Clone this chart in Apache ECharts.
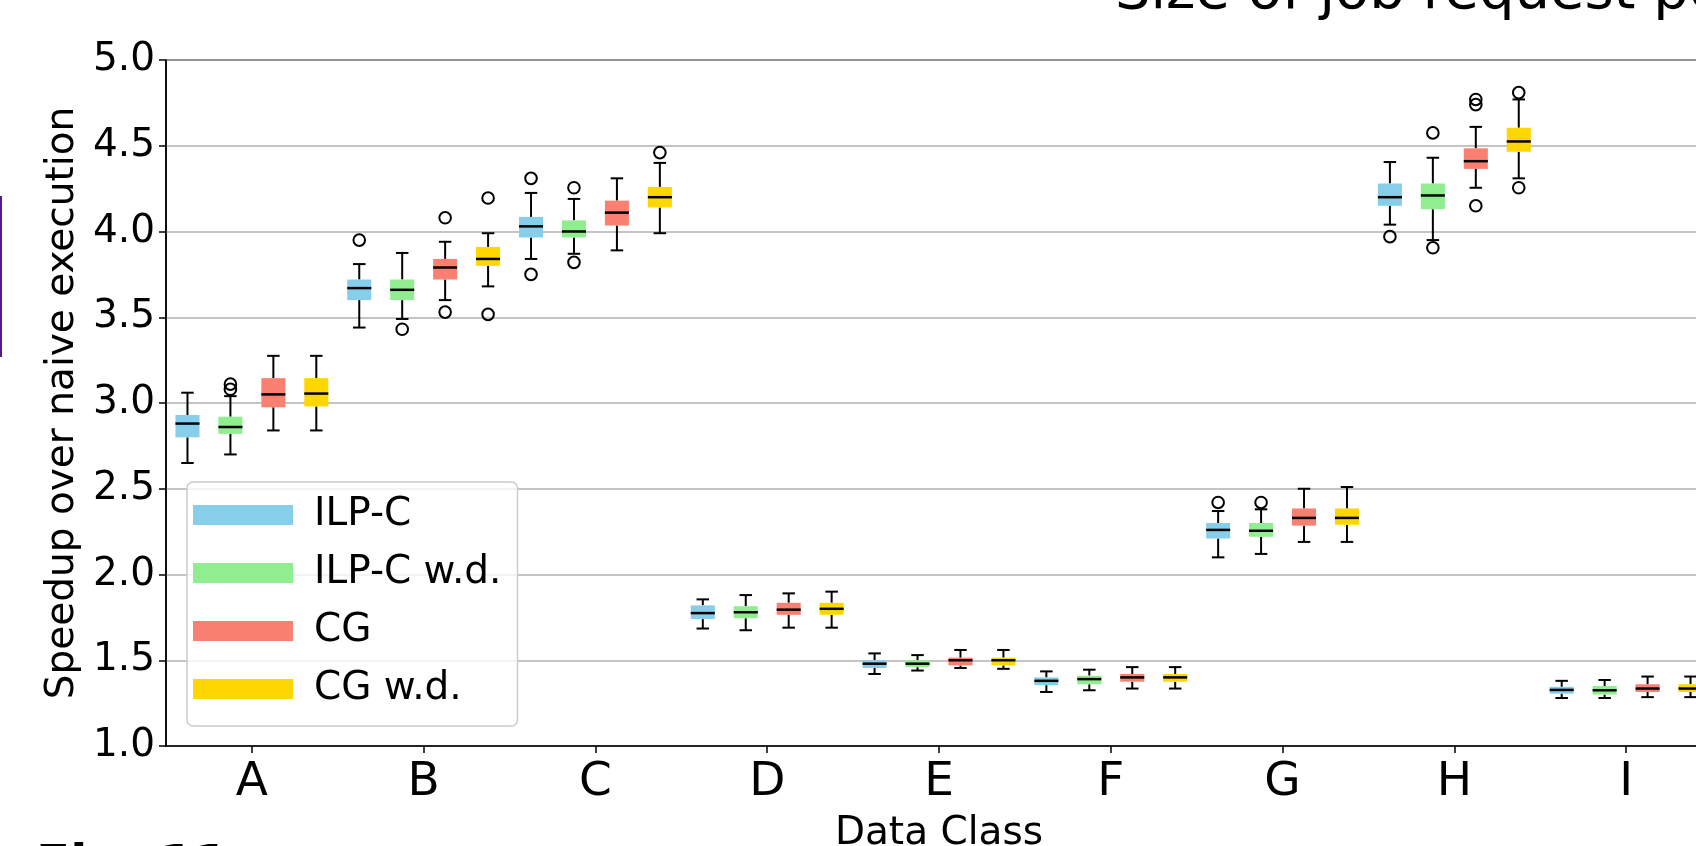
<!DOCTYPE html>
<html><head><meta charset="utf-8">
<script src="https://cdn.jsdelivr.net/npm/echarts@6/dist/echarts.min.js"></script>
<style>html,body{margin:0;padding:0;overflow:hidden;background:#fff}#c{width:1760px;height:846px}</style>
</head><body><div id="c"></div>
<script>
const categories = ['A','B','C','D','E','F','G','H','I'];
const seriesNames = ['ILP-C','ILP-C w.d.','CG','CG w.d.'];
const yTickValues = [1.0,1.5,2.0,2.5,3.0,3.5,4.0,4.5,5.0];
// each row: [min, Q1, median, Q3, max] for one data class
const ilpc = [
 [2.65,2.80,2.88,2.93,3.06],
 [3.44,3.60,3.67,3.72,3.81],
 [3.84,3.965,4.03,4.085,4.225],
 [1.685,1.74,1.775,1.82,1.855],
 [1.42,1.455,1.48,1.50,1.54],
 [1.315,1.355,1.38,1.40,1.435],
 [2.10,2.21,2.26,2.30,2.37],
 [4.04,4.15,4.20,4.28,4.405],
 [1.28,1.305,1.327,1.345,1.38]
];
const ilpcWd = [
 [2.70,2.82,2.86,2.92,3.04],
 [3.49,3.60,3.66,3.72,3.875],
 [3.87,3.965,4.00,4.065,4.19],
 [1.675,1.745,1.78,1.815,1.88],
 [1.44,1.46,1.48,1.50,1.53],
 [1.325,1.36,1.39,1.41,1.445],
 [2.12,2.22,2.255,2.30,2.38],
 [3.95,4.13,4.21,4.28,4.43],
 [1.28,1.30,1.325,1.35,1.385]
];
const cg = [
 [2.84,2.975,3.05,3.145,3.275],
 [3.60,3.72,3.79,3.84,3.94],
 [3.89,4.035,4.11,4.18,4.31],
 [1.69,1.765,1.795,1.835,1.89],
 [1.455,1.47,1.50,1.515,1.56],
 [1.335,1.375,1.40,1.42,1.46],
 [2.19,2.285,2.33,2.385,2.50],
 [4.255,4.365,4.41,4.485,4.61],
 [1.285,1.315,1.335,1.36,1.405]
];
const cgWd = [
 [2.84,2.98,3.055,3.145,3.275],
 [3.68,3.80,3.84,3.91,3.99],
 [3.99,4.14,4.20,4.26,4.40],
 [1.69,1.765,1.80,1.835,1.90],
 [1.45,1.47,1.50,1.515,1.56],
 [1.335,1.375,1.40,1.42,1.46],
 [2.19,2.29,2.33,2.385,2.51],
 [4.31,4.465,4.525,4.605,4.77],
 [1.285,1.315,1.335,1.36,1.405]
];
// outliers: [class, value]
const ilpcOut = [['B',3.95],['C',4.31],['C',3.75],['G',2.42],['H',3.97]];
const ilpcWdOut = [['A',3.08],['A',3.11],['B',3.43],['C',4.255],['C',3.82],['G',2.42],['H',4.575],['H',3.905]];
const cgOut = [['B',4.08],['B',3.53],['H',4.77],['H',4.74],['H',4.15]];
const cgWdOut = [['B',4.195],['B',3.517],['C',4.46],['H',4.81],['H',4.255]];

const colors = ['#87CEEB','#90EE90','#FA8072','#FFD700'];
const OFFS = [-0.375,-0.125,0.125,0.375];
const BOXW = 0.14;
const FONT = '"DejaVu Sans", sans-serif';

const boxData = [ilpc, ilpcWd, cg, cgWd];
const outData = [ilpcOut, ilpcWdOut, cgOut, cgWdOut];

function boxRender(k){
  return function(params, api){
    const i = api.value(0);
    const band = api.size([1,0])[0];
    const cx = api.coord([i, 1])[0] + OFFS[k]*band;
    const w = BOXW*band, cw = w*0.52;
    const y = [1,2,3,4,5].map(d => api.coord([i, api.value(d)])[1]);
    const ls = {stroke:'#000', lineWidth:2};
    return {type:'group', children:[
      {type:'line', shape:{x1:cx,y1:y[3],x2:cx,y2:y[4]}, style:ls},
      {type:'line', shape:{x1:cx,y1:y[1],x2:cx,y2:y[0]}, style:ls},
      {type:'line', shape:{x1:cx-cw/2,y1:y[4],x2:cx+cw/2,y2:y[4]}, style:ls},
      {type:'line', shape:{x1:cx-cw/2,y1:y[0],x2:cx+cw/2,y2:y[0]}, style:ls},
      {type:'rect', shape:{x:cx-w/2,y:y[3],width:w,height:y[1]-y[3]}, style:{fill:colors[k]}},
      {type:'line', shape:{x1:cx-w/2,y1:y[2],x2:cx+w/2,y2:y[2]}, style:{stroke:'#000',lineWidth:2.5}}
    ]};
  };
}
function outRender(k){
  return function(params, api){
    const i = api.value(0);
    const band = api.size([1,0])[0];
    const p = api.coord([i, api.value(1)]);
    return {type:'circle', shape:{cx:p[0]+OFFS[k]*band, cy:p[1], r:5.8},
            style:{fill:'none', stroke:'#000', lineWidth:2}};
  };
}

const series = [];
for (let k=0;k<4;k++){
  series.push({
    name: seriesNames[k], type:'custom', renderItem: boxRender(k),
    itemStyle:{color:colors[k]},
    dimensions:['x','min','q1','med','q3','max'],
    encode:{x:0, y:[1,2,3,4,5]},
    data: boxData[k].map((r,i)=>[i].concat(r)), z:3
  });
}
for (let k=0;k<4;k++){
  series.push({
    name: seriesNames[k]+' outliers', type:'custom', renderItem: outRender(k),
    encode:{x:0, y:1},
    data: outData[k].map(o=>[categories.indexOf(o[0]), o[1]]), z:4
  });
}

const chart = echarts.init(document.getElementById('c'), null, {renderer:'canvas'});
chart.setOption({
  animation:false,
  backgroundColor:'#fff',
  grid:{left:166, right:48, top:60, bottom:100, show:true, borderColor:'#000', borderWidth:1.5, backgroundColor:'transparent', outerBoundsMode:'none'},
  xAxis:{
    type:'category', data:categories,
    name:'Data Class', nameLocation:'middle', nameGap:68,
    nameTextStyle:{fontFamily:FONT, fontSize:39, color:'#000'},
    axisLine:{show:true, lineStyle:{color:'#000', width:1.5}},
    axisTick:{show:true, alignWithLabel:true, length:7, lineStyle:{color:'#000', width:1.5}},
    axisLabel:{fontFamily:FONT, fontSize:47, color:'#000', margin:13},
    splitLine:{show:false}
  },
  yAxis:{
    type:'value', min:yTickValues[0], max:yTickValues[yTickValues.length-1], interval:0.5,
    name:'Speedup over naive execution', nameLocation:'middle', nameRotate:90, nameGap:78,
    nameTextStyle:{fontFamily:FONT, fontSize:39, color:'#000'},
    axisLine:{show:true, lineStyle:{color:'#000', width:1.5}},
    axisTick:{show:true, length:7, lineStyle:{color:'#000', width:1.5}},
    axisLabel:{fontFamily:FONT, fontSize:39, color:'#000', margin:11, formatter:v=>v.toFixed(1)},
    splitLine:{show:true, lineStyle:{color:'#b0b0b0', width:1.6}}
  },
  legend:{
    data:seriesNames, orient:'vertical', left:187, top:482,
    icon:'rect', itemWidth:100, itemHeight:20, itemGap:14,
    padding:[11,16,15,6],
    backgroundColor:'rgba(255,255,255,0.8)', borderColor:'#cccccc', borderWidth:1.5, borderRadius:6,
    textStyle:{fontFamily:FONT, fontSize:39, color:'#000', lineHeight:44, padding:[0,0,0,16]},
    selectedMode:false
  },
  graphic:[
    {type:'text', x:1115, y:-7, silent:true,
     style:{text:'Size of job request per', font:'56px '+FONT, fill:'#000', verticalAlign:'middle', align:'left'}},
    {type:'text', x:36, y:867, silent:true,
     style:{text:'Fig. 11', font:'bold 50px '+FONT, fill:'#000', verticalAlign:'middle', align:'left'}},
    {type:'line', shape:{x1:1, y1:196, x2:1, y2:357}, style:{stroke:'#551a8b', lineWidth:2}, silent:true}
  ],
  series:series
});
</script></body></html>
